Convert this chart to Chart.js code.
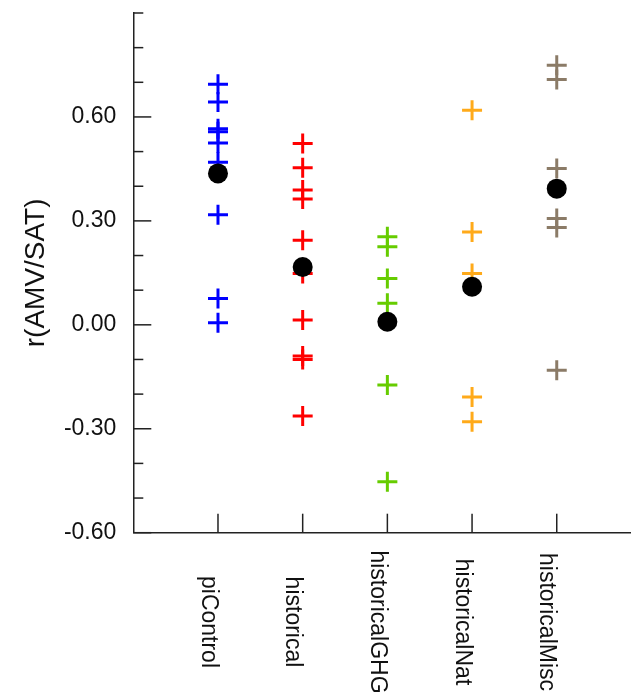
<!DOCTYPE html>
<html>
<head>
<meta charset="utf-8">
<script src="https://cdn.jsdelivr.net/npm/chart.js@4.4.0/dist/chart.umd.min.js"></script>
<style>
  body { margin: 0; background: #fff; }
  #wrap { width: 643px; height: 696px; position: relative; }
</style>
</head>
<body>
<div id="wrap"><canvas id="grafico"></canvas></div>
<script>
// experimentos no eixo x
var experimentos = ['piControl', 'historical', 'historicalGHG', 'historicalNat', 'historicalMisc'];
var cores = ['#0000ff', '#ff0000', '#66cc00', '#ffaa1a', '#8b7b67'];

// r(AMV/SAT) de cada membro
var piControl = [0.694, 0.643, 0.566, 0.557, 0.525, 0.469, 0.318, 0.076, 0.006];
var historical = [0.523, 0.453, 0.389, 0.363, 0.244, 0.148, 0.014, -0.090, -0.100, -0.263];
var historicalGHG = [0.254, 0.225, 0.134, 0.062, -0.174, -0.453];
var historicalNat = [0.619, 0.268, 0.148, -0.208, -0.280];
var historicalMisc = [0.749, 0.708, 0.451, 0.307, 0.281, -0.131];
var membros = [piControl, historical, historicalGHG, historicalNat, historicalMisc];

// media do ensemble (bolas pretas)
var medias = [0.437, 0.167, 0.009, 0.110, 0.393];

// rotulos do eixo y (o topo 0.90 fica sem rotulo)
var ticksY = [-0.6, -0.3, 0, 0.3, 0.6];

var fonte = "'Liberation Sans', Arial, sans-serif";

// monta os datasets - media primeiro para ficar por cima
var datasets = [{
  label: 'media',
  data: medias.map(function(m, i) { return { x: i, y: m }; }),
  pointStyle: 'circle',
  pointRadius: 10,
  backgroundColor: '#000',
  borderColor: '#000',
  borderWidth: 0
}];
membros.forEach(function(lista, i) {
  datasets.push({
    label: experimentos[i],
    data: lista.map(function(v) { return { x: i, y: v }; }),
    pointStyle: 'cross',
    pointRadius: 10,
    borderWidth: 3,
    borderColor: cores[i],
    backgroundColor: cores[i]
  });
});

// marcas dos eixos (para dentro) e rotulos girados do eixo x
var marcas = {
  id: 'marcas',
  afterDraw: function(chart) {
    var c = chart.ctx, a = chart.chartArea;
    var sy = chart.scales.y, sx = chart.scales.x;
    c.save();
    c.strokeStyle = '#222';
    c.lineWidth = 1.5;
    for (var k = -6; k <= 9; k++) {
      var py = sy.getPixelForValue(k / 10);
      var len = (k % 3 === 0 && k !== 9) ? 18 : 10;
      c.beginPath();
      c.moveTo(a.left, py);
      c.lineTo(a.left + len, py);
      c.stroke();
    }
    experimentos.forEach(function(nome, i) {
      var px = sx.getPixelForValue(i);
      c.beginPath();
      c.moveTo(px, a.bottom);
      c.lineTo(px, a.bottom - 19);
      c.stroke();
      c.save();
      c.translate(px - 10, 622);
      c.rotate(Math.PI / 2);
      c.font = '23px ' + fonte;
      c.fillStyle = '#111';
      c.textAlign = 'center';
      c.textBaseline = 'middle';
      c.fillText(nome, 0, 0);
      c.restore();
    });
    c.restore();
  }
};

// tira o espaco extra que o chart.js reserva para os rotulos
function semPadding(scale) {
  scale.paddingTop = 0;
  scale.paddingBottom = 0;
  scale.paddingLeft = 0;
  scale.paddingRight = 0;
}

var ctx = document.getElementById('grafico').getContext('2d');
var grafico = new Chart(ctx, {
  type: 'scatter',
  data: { datasets: datasets },
  options: {
    responsive: true,
    maintainAspectRatio: false,
    animation: false,
    layout: { padding: { top: 12.7, right: 0, bottom: 0, left: 0 } },
    plugins: {
      legend: { display: false },
      tooltip: { enabled: false }
    },
    elements: { point: { hoverRadius: 10 } },
    scales: {
      x: {
        type: 'linear',
        min: -1,
        max: 4.865,
        ticks: { display: false },
        grid: { drawOnChartArea: false, drawTicks: false },
        border: { display: true, color: '#222', width: 1.5 },
        afterFit: function(scale) { scale.height = 163.3; semPadding(scale); }
      },
      y: {
        min: -0.6,
        max: 0.9,
        afterBuildTicks: function(scale) {
          scale.ticks = ticksY.map(function(v) { return { value: v }; });
        },
        ticks: {
          padding: 17,
          color: '#111',
          font: { family: fonte, size: 23 },
          callback: function(value) {
            return value.toFixed(2);
          }
        },
        grid: { drawOnChartArea: false, drawTicks: false },
        border: { display: true, color: '#222', width: 1.5 },
        title: {
          display: true,
          text: 'r(AMV/SAT)',
          color: '#111',
          font: { family: fonte, size: 28 },
          padding: { top: 19, bottom: 0 }
        },
        afterFit: function(scale) { scale.width = 133.3; semPadding(scale); }
      }
    }
  },
  plugins: [marcas]
});
</script>
</body>
</html>
